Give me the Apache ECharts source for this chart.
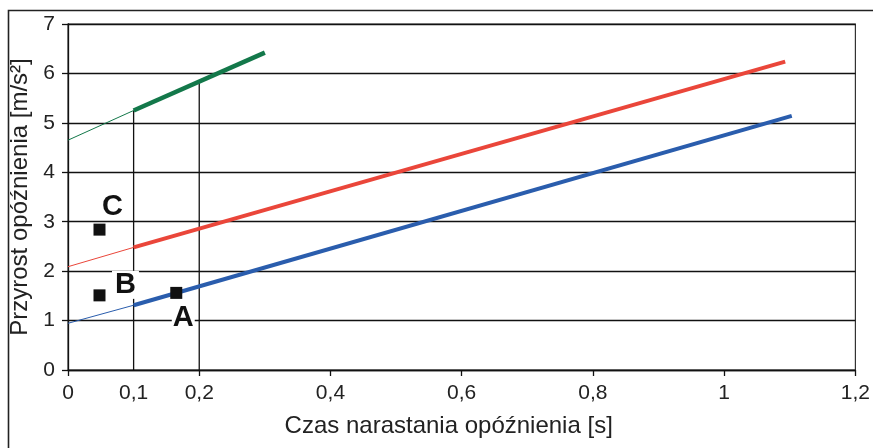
<!DOCTYPE html>
<html>
<head>
<meta charset="utf-8">
<script src="https://cdn.jsdelivr.net/npm/echarts@6/dist/echarts.min.js"></script>
<style>
html,body{margin:0;padding:0;background:#fff;}
#c{width:873px;height:448px;}
</style>
</head>
<body>
<div id="c"></div>
<script>
// ---- data ----
const xLabelValues = [0, 0.1, 0.2, 0.4, 0.6, 0.8, 1, 1.2];
const xTickValues = [0, 0.2, 0.4, 0.6, 0.8, 1, 1.2];
const yTicks = [0, 1, 2, 3, 4, 5, 6, 7];

// each line: x points and y points; first segment thin, rest thick
const greenX = [0, 0.1, 0.3];
const greenY = [4.65, 5.25, 6.42];
const redX = [0, 0.1, 1.093];
const redY = [2.09, 2.48, 6.24];
const blueX = [0, 0.1, 1.103];
const blueY = [0.945, 1.31, 5.14];

// vertical guide lines (x positions), drawn up to the green line
const guideX = [0.1, 0.2];

// operating points
const pointNames = ['C', 'B', 'A'];
const pointX = [0.048, 0.048, 0.165];
const pointY = [2.84, 1.51, 1.56];

// ---- build ----
const FONT = '"Liberation Sans", Arial, sans-serif';
function pts(xs, ys, from, to) {
  const out = [];
  for (let i = from; i <= to; i++) out.push([xs[i], ys[i]]);
  return out;
}
function greenAt(x) {
  for (let i = 0; i < greenX.length - 1; i++) {
    if (x >= greenX[i] && x <= greenX[i + 1]) {
      const t = (x - greenX[i]) / (greenX[i + 1] - greenX[i]);
      return greenY[i] + t * (greenY[i + 1] - greenY[i]);
    }
  }
  return greenY[greenY.length - 1];
}
function lineSeries(xs, ys, color, w) {
  return [
    { type: 'line', data: pts(xs, ys, 0, 1), showSymbol: false, silent: true,
      lineStyle: { color: color, width: 1 }, z: 3 },
    { type: 'line', data: pts(xs, ys, 1, xs.length - 1), showSymbol: false, silent: true,
      lineStyle: { color: color, width: w }, z: 6 }
  ];
}
const series = [];
guideX.forEach(gx => {
  series.push({ type: 'line', data: [[gx, 0], [gx, greenAt(gx)]], showSymbol: false, silent: true,
    lineStyle: { color: '#111', width: 1.3 }, z: 2 });
});
series.push(...lineSeries(greenX, greenY, '#13784a', 4.5));
series.push(...lineSeries(redX, redY, '#ea463a', 4));
series.push(...lineSeries(blueX, blueY, '#2a5dad', 4));

const labelStyles = {
  C: { offset: [13, -23] },
  B: { offset: [26, -10.5], backgroundColor: '#fff', padding: [4, 3, 0, 3], lineHeight: 24 },
  A: { offset: [7, 25], backgroundColor: '#fff', padding: [0, 1, 0, 1], lineHeight: 24 }
};
series.push({
  type: 'scatter', symbol: 'rect', symbolSize: 12, z: 7,
  itemStyle: { color: '#111', opacity: 1 },
  data: pointNames.map((n, i) => {
    const ls = labelStyles[n];
    return {
      name: n, value: [pointX[i], pointY[i]],
      label: Object.assign({
        show: true, position: 'inside', formatter: n, opacity: 1,
        fontFamily: FONT, fontWeight: 'bold', fontSize: 29, color: '#111'
      }, ls)
    };
  })
});

const chart = echarts.init(document.getElementById('c'), null, { renderer: 'canvas' });
chart.setOption({
  animation: false,
  backgroundColor: '#fff',
  graphic: [{
    type: 'rect', left: 6, top: 8, shape: { x: 0, y: 0, width: 900, height: 500 },
    style: { fill: null, stroke: '#222', lineWidth: 1.6 }, z: 0
  }],
  grid: { left: 68, right: 14, top: 24, bottom: 78, show: true, borderColor: '#333', borderWidth: 1.2 },
  xAxis: {
    type: 'value', min: 0, max: 1.2,
    name: 'Czas narastania opóźnienia [s]', nameLocation: 'middle', nameGap: 44,
    nameTextStyle: { fontFamily: FONT, fontSize: 24, color: '#222', padding: [0, 26, 0, 0] },
    axisLine: { show: true, onZero: false, lineStyle: { color: '#111', width: 1.3 } },
    axisTick: { show: true, length: 6, customValues: xTickValues, lineStyle: { color: '#111', width: 1.3 } },
    axisLabel: { customValues: xLabelValues, margin: 13, fontFamily: FONT, fontSize: 21, color: '#222',
      formatter: v => String(+v.toFixed(2)).replace('.', ',') },
    splitLine: { show: false }
  },
  yAxis: {
    type: 'value', min: yTicks[0], max: yTicks[yTicks.length - 1], interval: 1,
    name: 'Przyrost opóźnienia [m/s²]', nameLocation: 'middle', nameGap: 32, nameRotate: 90,
    nameTextStyle: { fontFamily: FONT, fontSize: 24, color: '#222' },
    axisLine: { show: true, lineStyle: { color: '#111', width: 1.3 } },
    axisTick: { show: true, length: 6, lineStyle: { color: '#111', width: 1.3 } },
    axisLabel: { margin: 13, fontFamily: FONT, fontSize: 21, color: '#222' },
    splitLine: { show: true, lineStyle: { color: '#111', width: 1.3 } }
  },
  series: series
});
</script>
</body>
</html>
